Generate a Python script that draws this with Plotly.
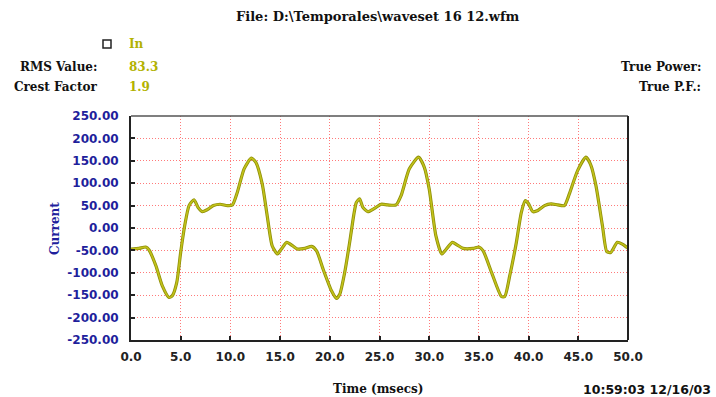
import plotly.graph_objects as go

# Sampled current waveform (time in ms, current in A)
time_ms = [0.0, 0.8, 1.48, 1.8, 2.5, 3.15, 3.83, 4.16, 4.6, 5.0, 5.4, 5.84, 6.34, 6.74, 7.18,
           7.68, 8.29, 8.96, 9.7, 10.2, 10.7, 11.38, 12.1, 12.55, 13.2, 13.7, 14.2, 14.73,
           15.13, 15.67, 16.24, 16.74, 17.5, 18.17, 18.67, 19.33, 20.17, 20.67, 21.0, 21.5,
           22.0, 22.4, 22.67, 23.0, 23.33, 23.83, 24.5, 25.17, 25.83, 26.67, 27.17, 28.0,
           28.93, 29.5, 30.0, 30.67, 31.27, 31.67, 32.33, 32.83, 33.4, 34.43, 35.0, 35.43,
           36.27, 37.27, 37.6, 38.1, 38.77, 39.27, 39.67, 40.0, 40.43, 40.93, 41.6, 42.27,
           42.93, 43.6, 44.1, 44.93, 45.77, 46.27, 46.77, 47.43, 47.87, 48.27, 48.93, 49.43,
           49.87, 50.0]
current = [-47, -45.5, -42.5, -48.5, -84, -129, -155, -151, -122, -54, 5, 50, 63, 46, 36.5,
           41, 50, 53, 50, 51.5, 80, 132, 156, 147, 98.5, 27.6, -39.5, -58,
           -47, -32, -39.5, -47, -45.5, -41, -51, -92, -140, -157, -148, -99,
           -32, 27.6, 57, 65, 46, 36.5, 44, 53, 51.5, 51.5, 72, 132,
           158, 136, 87, -17, -58, -48.5, -32, -38, -45.5, -45.5, -42.5, -51,
           -99, -153, -153, -107, -32, 35, 61, 54, 36.5, 39, 50, 54,
           51.5, 50, 76, 128, 158, 140, 95, 5, -53, -54.5, -32, -36,
           -43, -45]

y_ticks = [250, 200, 150, 100, 50, 0, -50, -100, -150, -200, -250]
x_ticks = [0, 5, 10, 15, 20, 25, 30, 35, 40, 45, 50]

file_name = "File: D:\\Temporales\\waveset 16 12.wfm"
channel = "In"
rms_value = "83.3"
crest_factor = "1.9"
timestamp = "10:59:03 12/16/03"

W, H = 716, 397
L, R, T, B = 131, 628, 116, 340

def px(x):
    return (x - L) / (R - L)

def py(y):
    return (B - y) / (B - T)

SERIF = "DejaVu Serif"
SANS = "DejaVu Sans"
OLIVE = "#b2b200"
BLUE = "#1f1f9c"
GRID = "#ff7a7a"

fig = go.Figure()
fig.add_trace(go.Scatter(x=time_ms, y=current, mode="lines",
                         line=dict(color="#8f8f08", width=3.2, shape="spline", smoothing=0.6),
                         hoverinfo="skip", showlegend=False))
fig.add_trace(go.Scatter(x=time_ms, y=current, mode="lines", name=channel,
                         line=dict(color="#c2c21a", width=1.6, shape="spline", smoothing=0.6),
                         showlegend=False))

fig.update_xaxes(range=[0, 50], tickvals=x_ticks,
                 ticktext=[f"{v:.1f}" for v in x_ticks],
                 showgrid=True, gridcolor=GRID, griddash="1px,2px", gridwidth=1.3,
                 ticks="inside", ticklen=4, tickwidth=2, tickcolor="#222",
                 showline=True, linecolor="#222", linewidth=2, mirror=False,
                 zeroline=False, ticklabelstandoff=5,
                 tickfont=dict(family=SANS, size=12, color="#222", weight="bold"))
fig.update_yaxes(range=[-250, 250], tickvals=y_ticks,
                 ticktext=[f"{v:.2f}" for v in y_ticks],
                 showgrid=True, gridcolor=GRID, griddash="1px,2px", gridwidth=1.3,
                 ticks="inside", ticklen=4, tickwidth=2, tickcolor="#222",
                 showline=True, linecolor="#222", linewidth=2, mirror=False,
                 zeroline=False, ticklabelstandoff=8,
                 tickfont=dict(family=SANS, size=12, color=BLUE, weight="bold"))

annotations = [
    dict(x=px(378), y=py(17), text=f"<b>{file_name}</b>", xanchor="center",
         font=dict(family=SERIF, size=13, color="#111")),
    dict(x=px(127), y=py(44), text=f"<b>{channel}</b>", xanchor="left",
         font=dict(family=SERIF, size=12, color=OLIVE)),
    dict(x=px(99), y=py(67), text="<b>RMS Value:</b>", xanchor="right",
         font=dict(family=SERIF, size=12, color="#111")),
    dict(x=px(127), y=py(67), text=f"<b>{rms_value}</b>", xanchor="left",
         font=dict(family=SERIF, size=12, color=OLIVE)),
    dict(x=px(99), y=py(87), text="<b>Crest Factor</b>", xanchor="right",
         font=dict(family=SERIF, size=12, color="#111")),
    dict(x=px(127), y=py(87), text=f"<b>{crest_factor}</b>", xanchor="left",
         font=dict(family=SERIF, size=12, color=OLIVE)),
    dict(x=px(703), y=py(67), text="<b>True Power:</b>", xanchor="right",
         font=dict(family=SERIF, size=12, color="#111")),
    dict(x=px(703), y=py(87), text="<b>True P.F.:</b>", xanchor="right",
         font=dict(family=SERIF, size=12, color="#111")),
    dict(x=px(55), y=py(229), text="<b>Current</b>", textangle=-90, xanchor="center",
         font=dict(family=SERIF, size=12, color=BLUE)),
    dict(x=px(378), y=py(389), text="<b>Time (msecs)</b>", xanchor="center",
         font=dict(family=SERIF, size=12, color="#111")),
    dict(x=px(713), y=py(389), text=f"<b>{timestamp}</b>", xanchor="right",
         font=dict(family=SANS, size=12.5, color="#111")),
]
for a in annotations:
    a.update(xref="paper", yref="paper", yanchor="middle", showarrow=False)

shapes = [
    # frame on the top and right sides of the plot area
    dict(type="line", xref="paper", yref="paper", x0=0, x1=1, y0=1, y1=1,
         line=dict(color="#555", width=1.5)),
    dict(type="line", xref="paper", yref="paper", x0=1, x1=1, y0=0, y1=1,
         line=dict(color="#222", width=2)),
    # small open square next to the channel name
    dict(type="rect", xref="paper", yref="paper", x0=px(103), x1=px(111),
         y0=py(48), y1=py(40), line=dict(color="#222", width=1.5)),
]

fig.update_layout(width=W, height=H, margin=dict(l=L, r=W - R, t=T, b=H - B),
                  paper_bgcolor="white", plot_bgcolor="white",
                  annotations=annotations, shapes=shapes, showlegend=False)

fig.write_html("out.html")
